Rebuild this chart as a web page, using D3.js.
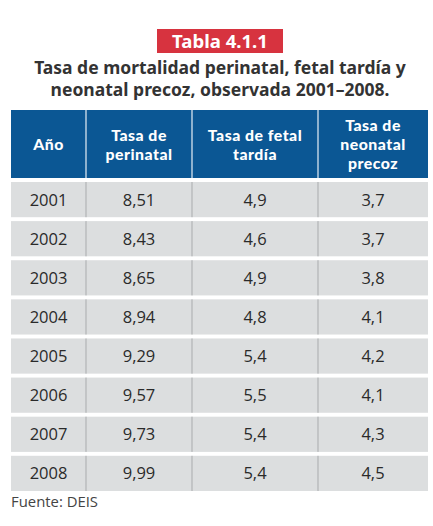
<!DOCTYPE html>
<html><head><meta charset="utf-8">
<script src="https://cdn.jsdelivr.net/npm/d3@7"></script>
<style>
html,body{margin:0;padding:0;background:#fff;}
svg{display:block;}
</style></head>
<body>
<svg id="chart" width="433" height="526"></svg>
<script>
const badge = "Tabla 4.1.1";
const titleLines = ["Tasa de mortalidad perinatal, fetal tardía y", "neonatal precoz, observada 2001–2008."];
const headers = [["Año"], ["Tasa de", "perinatal"], ["Tasa de fetal", "tardía"], ["Tasa de", "neonatal", "precoz"]];
const years = ["2001","2002","2003","2004","2005","2006","2007","2008"];
const perinatal = ["8,51","8,43","8,65","8,94","9,29","9,57","9,73","9,99"];
const fetal = ["4,9","4,6","4,9","4,8","5,4","5,5","5,4","5,4"];
const neonatal = ["3,7","3,7","3,8","4,1","4,2","4,1","4,3","4,5"];
const source = "Fuente: DEIS";

const svg = d3.select("#chart");
const colEdges = [11, 86, 192, 318, 428];
const blue = "#0b5794", red = "#d7333f", rowBg = "#dcdedf";

function fit(sel, target){
  const n = sel.node();
  let fs = parseFloat(sel.attr("font-size"));
  const w = n.getComputedTextLength();
  if (w > 0) sel.attr("font-size", (fs * target / w).toFixed(2));
}

// badge
svg.append("rect").attr("x",157).attr("y",29).attr("width",126).attr("height",24).attr("fill",red);
const bt = svg.append("text").attr("x",220).attr("y",47.5).attr("text-anchor","middle")
  .attr("font-family","Noto Sans, sans-serif").attr("font-weight","bold").attr("font-size",18)
  .attr("fill","#fff").text(badge);
fit(bt, 96);

// title
const title = svg.append("text").attr("text-anchor","middle")
  .attr("font-family","Noto Sans, sans-serif").attr("font-weight","bold").attr("font-size",17.5)
  .attr("fill","#333");
titleLines.forEach((t,i)=>{
  title.append("tspan").attr("x",220).attr("y",[74,96][i]).text(t);
});

// header
svg.append("rect").attr("x",colEdges[0]).attr("y",110).attr("width",colEdges[4]-colEdges[0]).attr("height",68).attr("fill",blue);
svg.selectAll("line.hsep").data(colEdges.slice(1,4)).join("line")
  .attr("x1",d=>d).attr("x2",d=>d).attr("y1",110).attr("y2",178)
  .attr("stroke","#e8eef5").attr("stroke-width",1.2);
headers.forEach((lines,ci)=>{
  const cx = (colEdges[ci]+colEdges[ci+1])/2;
  const lh = 19;
  const y0 = 144 - (lines.length-1)*lh/2 + 6;
  const t = svg.append("text").attr("text-anchor","middle")
    .attr("font-family","Lato, sans-serif").attr("font-weight","900").attr("font-size",15.8)
    .attr("letter-spacing",0.5)
    .attr("fill","#fff");
  lines.forEach((l,li)=>{
    t.append("tspan").attr("x",cx).attr("y",y0+li*lh).text(l);
  });
});

// body rows
const y = d3.scaleBand().domain(years).range([182, 491]).paddingInner(0.1).paddingOuter(0);
const cols = [years, perinatal, fetal, neonatal];
const rows = svg.selectAll("g.row").data(years).join("g").attr("class","row")
  .attr("transform",d=>`translate(0,${y(d)})`);
rows.append("rect").attr("x",colEdges[0]).attr("width",colEdges[4]-colEdges[0]).attr("height",y.bandwidth()).attr("fill",rowBg);
colEdges.slice(1,4).forEach(x=>{
  rows.append("line").attr("x1",x).attr("x2",x).attr("y1",0).attr("y2",y.bandwidth())
    .attr("stroke","#a9abad").attr("stroke-width",1);
});
rows.each(function(d,ri){
  const g = d3.select(this);
  cols.forEach((arr,ci)=>{
    g.append("text").attr("x",(colEdges[ci]+colEdges[ci+1])/2).attr("y",y.bandwidth()/2+6)
      .attr("text-anchor","middle").attr("font-family","Open Sans, sans-serif").attr("font-size",16.5)
      .attr("fill","#2a2a2a").text(arr[ri]);
  });
});

// source
const st = svg.append("text").attr("x",11).attr("y",507).attr("font-family","Open Sans, sans-serif")
  .attr("font-size",14).attr("fill","#444").text(source);
fit(st, 87);
</script>
</body></html>
